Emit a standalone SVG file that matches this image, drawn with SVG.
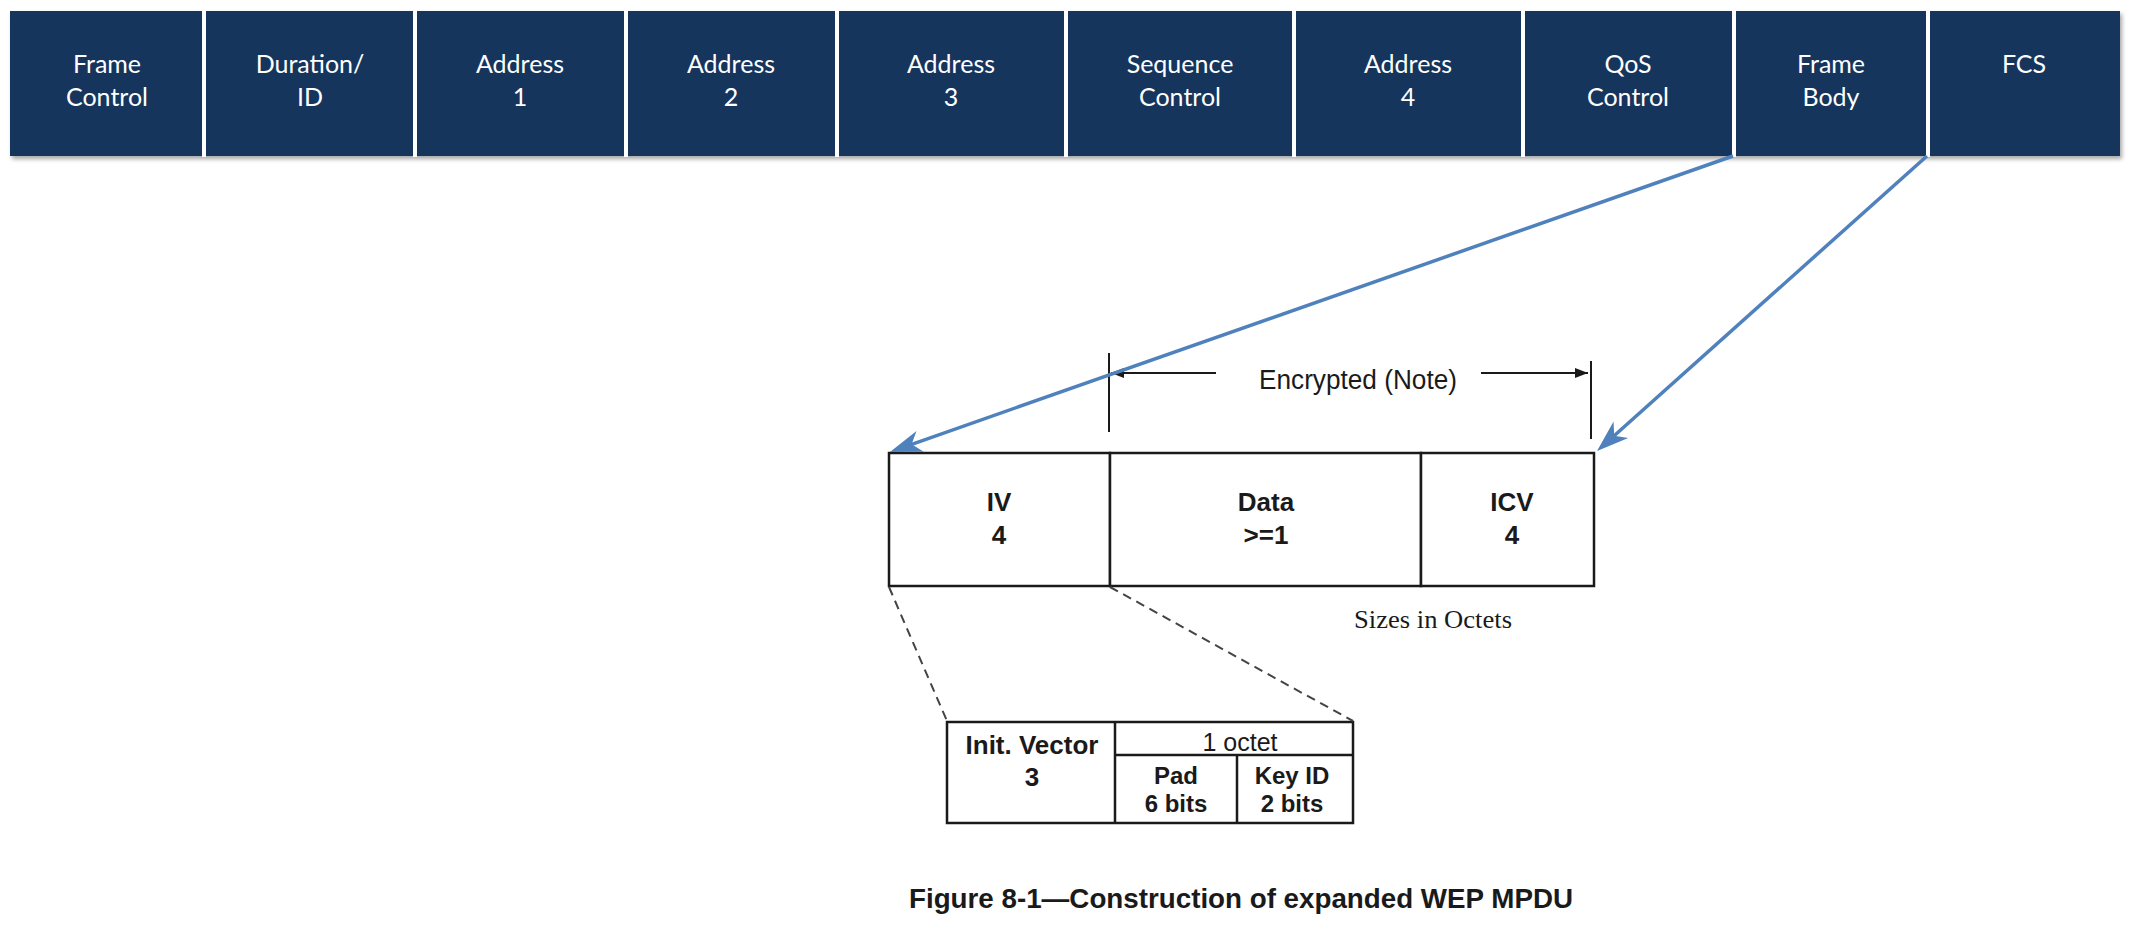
<svg xmlns="http://www.w3.org/2000/svg" width="2132" height="925" viewBox="0 0 2132 925">
<style>
.cell{fill:#17365d}
.hd{font-family:Lato,"Open Sans",sans-serif;font-size:25px;fill:#ffffff;text-anchor:middle}
.box{fill:#ffffff;stroke:#1a1a1a;stroke-width:2.5}
.ln{stroke:#1a1a1a;stroke-width:2.5;fill:none}
.bt{font-family:"Liberation Sans",Arial,sans-serif;font-size:26px;font-weight:bold;fill:#1a1a1a;text-anchor:middle}
.st{font-family:"Liberation Sans",Arial,sans-serif;font-size:24px;font-weight:bold;fill:#1a1a1a;text-anchor:middle}
.nt{font-family:"Liberation Sans",Arial,sans-serif;font-size:25px;fill:#1a1a1a;text-anchor:middle}
.blue{stroke:#4f81bd;stroke-width:3.5;fill:none}
.dash{stroke:#444;stroke-width:2;stroke-dasharray:9 6;fill:none}
.tick{stroke:#1a1a1a;stroke-width:2;fill:none}
</style>
<defs>
<filter id="sh" x="-5%" y="-20%" width="110%" height="150%">
<feDropShadow dx="2" dy="3" stdDeviation="2" flood-color="#000" flood-opacity="0.35"/>
</filter>
<marker id="ab" viewBox="-34 -12 36 24" refX="-8" refY="0" markerWidth="36" markerHeight="24" markerUnits="userSpaceOnUse" orient="auto">
<path d="M0,0 L-32,-11 L-23,0 L-32,11 Z" fill="#4f81bd"/>
</marker>
<marker id="ak" viewBox="-14 -6 15 12" refX="0" refY="0" markerWidth="15" markerHeight="12" markerUnits="userSpaceOnUse" orient="auto">
<path d="M0,0 L-13,-5 L-13,5 Z" fill="#1a1a1a"/>
</marker>
</defs>
<rect width="2132" height="925" fill="#ffffff"/>

<g id="header" filter="url(#sh)">
<rect x="10" y="11" width="2110" height="145" fill="#17365d"/>
</g>
<g id="dividers" stroke="#ffffff" stroke-width="4">
<line x1="204" y1="11" x2="204" y2="157"/>
<line x1="415" y1="11" x2="415" y2="157"/>
<line x1="626" y1="11" x2="626" y2="157"/>
<line x1="837" y1="11" x2="837" y2="157"/>
<line x1="1066" y1="11" x2="1066" y2="157"/>
<line x1="1294" y1="11" x2="1294" y2="157"/>
<line x1="1523" y1="11" x2="1523" y2="157"/>
<line x1="1734" y1="11" x2="1734" y2="157"/>
<line x1="1928" y1="11" x2="1928" y2="157"/>
</g>
<g id="f-frame-control"><text class="hd" x="107" y="73">Frame</text><text class="hd" x="107" y="106">Control</text></g>
<g id="f-duration"><text class="hd" x="310" y="73">Duration/</text><text class="hd" x="310" y="106">ID</text></g>
<g id="f-addr1"><text class="hd" x="520" y="73">Address</text><text class="hd" x="520" y="106">1</text></g>
<g id="f-addr2"><text class="hd" x="731" y="73">Address</text><text class="hd" x="731" y="106">2</text></g>
<g id="f-addr3"><text class="hd" x="951" y="73">Address</text><text class="hd" x="951" y="106">3</text></g>
<g id="f-seq"><text class="hd" x="1180" y="73">Sequence</text><text class="hd" x="1180" y="106">Control</text></g>
<g id="f-addr4"><text class="hd" x="1408" y="73">Address</text><text class="hd" x="1408" y="106">4</text></g>
<g id="f-qos"><text class="hd" x="1628" y="73">QoS</text><text class="hd" x="1628" y="106">Control</text></g>
<g id="f-body"><text class="hd" x="1831" y="73">Frame</text><text class="hd" x="1831" y="106">Body</text></g>
<g id="f-fcs"><text class="hd" x="2024" y="73">FCS</text></g>

<g id="encrypted">
<line class="tick" x1="1109" y1="353" x2="1109" y2="432"/>
<line class="tick" x1="1591" y1="361" x2="1591" y2="439"/>
<line class="tick" x1="1216" y1="373" x2="1111" y2="373" marker-end="url(#ak)"/>
<line class="tick" x1="1481" y1="373" x2="1588" y2="373" marker-end="url(#ak)"/>
<text x="1259" y="389" font-family="Liberation Sans, Arial, sans-serif" font-size="27" fill="#1a1a1a" textLength="198" lengthAdjust="spacingAndGlyphs">Encrypted (Note)</text>
</g>

<g id="iv">
<rect class="box" x="889" y="453" width="221" height="133"/>
<text class="bt" x="999" y="511">IV</text>
<text class="bt" x="999" y="544">4</text>
</g>
<g id="data">
<rect class="box" x="1110" y="453" width="311" height="133"/>
<text class="bt" x="1266" y="511">Data</text>
<text class="bt" x="1266" y="544">&gt;=1</text>
</g>
<g id="icv">
<rect class="box" x="1421" y="453" width="173" height="133"/>
<text class="bt" x="1512" y="511">ICV</text>
<text class="bt" x="1512" y="544">4</text>
</g>
<g id="sizes">
<text x="1354" y="628" font-family="Liberation Serif, Times New Roman, serif" font-size="26" fill="#1a1a1a" textLength="158" lengthAdjust="spacingAndGlyphs">Sizes in Octets</text>
</g>

<g id="iv-detail">
<rect class="box" x="947" y="722" width="406" height="101"/>
<line class="ln" x1="1115" y1="722" x2="1115" y2="823"/>
<line class="ln" x1="1115" y1="755" x2="1353" y2="755"/>
<line class="ln" x1="1237" y1="755" x2="1237" y2="823"/>
<text class="bt" x="1032" y="754">Init. Vector</text>
<text class="bt" x="1032" y="786">3</text>
<text class="nt" x="1240" y="751">1 octet</text>
<text class="st" x="1176" y="784">Pad</text>
<text class="st" x="1176" y="812">6 bits</text>
<text class="st" x="1292" y="784">Key ID</text>
<text class="st" x="1292" y="812">2 bits</text>
</g>

<g id="connectors">
<line class="blue" x1="1733" y1="156" x2="897.5" y2="449.3" marker-end="url(#ab)"/>
<line class="blue" x1="1927" y1="156" x2="1603" y2="445.7" marker-end="url(#ab)"/>
<line class="dash" x1="889" y1="587" x2="947" y2="721"/>
<line class="dash" x1="1110" y1="587" x2="1353" y2="721"/>
</g>

<g id="caption">
<text x="909" y="908" font-family="Liberation Sans, Arial, sans-serif" font-size="28" font-weight="bold" fill="#1a1a1a" textLength="664" lengthAdjust="spacingAndGlyphs">Figure 8-1—Construction of expanded WEP MPDU</text>
</g>
</svg>
